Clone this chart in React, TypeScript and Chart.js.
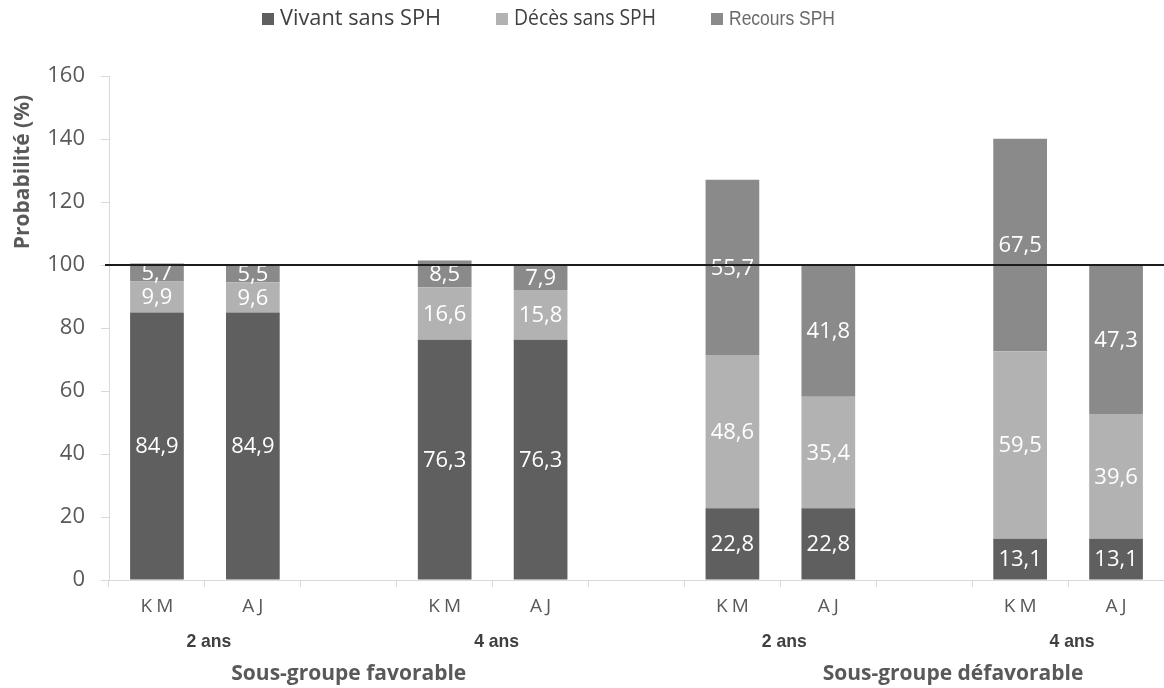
import React, { useEffect, useRef } from "react";
import { Chart, registerables } from "chart.js";

Chart.register(...registerables);

const categories = ["KM", "AJ", "", "KM", "AJ", "", "KM", "AJ", "", "KM", "AJ"];
const vivantSansSPH = [84.9, 84.9, null, 76.3, 76.3, null, 22.8, 22.8, null, 13.1, 13.1];
const decesSansSPH = [9.9, 9.6, null, 16.6, 15.8, null, 48.6, 35.4, null, 59.5, 39.6];
const recoursSPH = [5.7, 5.5, null, 8.5, 7.9, null, 55.7, 41.8, null, 67.5, 47.3];
const seriesNames = ["Vivant sans SPH", "Décès sans SPH", "Recours SPH"];
const seriesColors = ["#5f5f5f", "#b2b2b2", "#8a8a8a"];
const horizonLabels = ["2 ans", "4 ans", "2 ans", "4 ans"];
const horizonPairs = [[0, 1], [3, 4], [6, 7], [9, 10]];
const groupLabels = ["Sous-groupe favorable", "Sous-groupe défavorable"];
const yTicks = [0, 20, 40, 60, 80, 100, 120, 140, 160];
const referenceValue = 100;
const yTitle = "Probabilité (%)";

const fmt = (v: number) => v.toFixed(1).replace(".", ",");

const overlayPlugin = {
  id: "overlay",
  afterDatasetsDraw(chart: any) {
    const ctx = chart.ctx;
    const ys = chart.scales.y;
    ctx.save();
    ctx.font = '22px "Open Sans"';
    ctx.fillStyle = "#ffffff";
    ctx.textAlign = "center";
    ctx.textBaseline = "middle";
    chart.data.datasets.forEach((ds: any, di: number) => {
      const meta = chart.getDatasetMeta(di);
      meta.data.forEach((el: any, i: number) => {
        const v = ds.data[i];
        if (v == null) return;
        const p = el.getProps(["x", "y", "base"], true);
        ctx.fillText(fmt(v), p.x, (p.y + p.base) / 2 + 1);
      });
    });
    const y100 = ys.getPixelForValue(referenceValue);
    ctx.strokeStyle = "#1c1c1c";
    ctx.lineWidth = 2;
    ctx.beginPath();
    ctx.moveTo(chart.chartArea.left - 4, y100);
    ctx.lineTo(chart.width, y100);
    ctx.stroke();
    ctx.restore();
  },
  afterDraw(chart: any) {
    const ctx = chart.ctx;
    const xs = chart.scales.x;
    const catW = xs.getPixelForValue(1) - xs.getPixelForValue(0);
    ctx.save();
    // legend
    ctx.textBaseline = "middle";
    ctx.textAlign = "left";
    const legendFonts = ['22px "Open Sans"', '22px "Open Sans"', '21px "Liberation Sans"'];
    const legendMaxW = [161, 142, 106];
    const legendTextColors = ["#404040", "#404040", "#6a6a6a"];
    let lx = 262;
    seriesNames.forEach((name, i) => {
      ctx.font = legendFonts[i];
      ctx.fillStyle = seriesColors[i];
      ctx.fillRect(lx, 13, 12, 12);
      ctx.fillStyle = legendTextColors[i];
      const w = Math.min(ctx.measureText(name).width, legendMaxW[i]);
      ctx.fillText(name, lx + 18, 19, legendMaxW[i]);
      lx += 18 + w + 55;
    });
    // y title
    ctx.save();
    ctx.translate(23, 172);
    ctx.rotate(-Math.PI / 2);
    ctx.textAlign = "center";
    ctx.font = 'bold 21px "Open Sans"';
    ctx.fillStyle = "#595959";
    ctx.fillText(yTitle, 0, 0);
    ctx.restore();
    // category labels
    ctx.textAlign = "center";
    ctx.font = '19px "Open Sans"';
    ctx.fillStyle = "#595959";
    (ctx as any).letterSpacing = "4px";
    categories.forEach((c, i) => {
      if (!c) return;
      ctx.fillText(c, xs.getPixelForValue(i) + 2, 607);
    });
    (ctx as any).letterSpacing = "0px";
    // horizon labels
    ctx.font = 'bold 19px "Liberation Sans"';
    ctx.fillStyle = "#404040";
    horizonLabels.forEach((t, i) => {
      const [a, b] = horizonPairs[i];
      const cx = (xs.getPixelForValue(a) + xs.getPixelForValue(b)) / 2 + 4;
      ctx.fillText(t, cx, 642, 45);
    });
    // group labels
    ctx.font = 'bold 21px "Open Sans"';
    ctx.fillStyle = "#595959";
    ctx.fillText(groupLabels[0], xs.getPixelForValue(2), 674);
    ctx.fillText(groupLabels[1], xs.getPixelForValue(8) + catW * 0.3, 674);
    ctx.restore();
  },
};

export default function App() {
  const ref = useRef<HTMLCanvasElement>(null);
  useEffect(() => {
    if (!ref.current) return;
    const chart = new Chart(ref.current, {
      type: "bar",
      data: {
        labels: categories,
        datasets: [
          { label: seriesNames[0], data: vivantSansSPH, backgroundColor: seriesColors[0] },
          { label: seriesNames[1], data: decesSansSPH, backgroundColor: seriesColors[1] },
          { label: seriesNames[2], data: recoursSPH, backgroundColor: seriesColors[2] },
        ] as any,
      },
      options: {
        responsive: false,
        animation: false,
        datasets: { bar: { barPercentage: 0.56, categoryPercentage: 1 } },
        layout: { padding: { top: 76, left: 0, right: 0, bottom: 0 } },
        plugins: { legend: { display: false }, tooltip: { enabled: false }, title: { display: false } },
        scales: {
          x: {
            stacked: true,
            grid: { display: true, drawOnChartArea: false, drawTicks: true, tickLength: 7, color: "#d9d9d9", offset: true },
            border: { display: true, color: "#d9d9d9", width: 1 },
            ticks: { display: false },
            afterFit: (s: any) => { s.height = 108; },
          },
          y: {
            stacked: true,
            min: 0,
            max: 160,
            afterBuildTicks: (s: any) => { s.ticks = yTicks.map((v) => ({ value: v })); },
            grid: { display: true, drawOnChartArea: false, drawTicks: true, tickLength: 8, color: "#d9d9d9" },
            border: { display: true, color: "#d9d9d9", width: 1 },
            ticks: { color: "#595959", font: { family: "Open Sans", size: 22 }, padding: 16 },
            afterFit: (s: any) => { s.width = 109; },
          },
        },
      },
      plugins: [overlayPlugin],
    });
    return () => chart.destroy();
  }, []);
  return (
    <div style={{ position: "fixed", left: 0, top: 0, width: 1164, height: 688, background: "#fff" }}>
      <canvas ref={ref} width={1164} height={688} style={{ display: "block" }} />
    </div>
  );
}
